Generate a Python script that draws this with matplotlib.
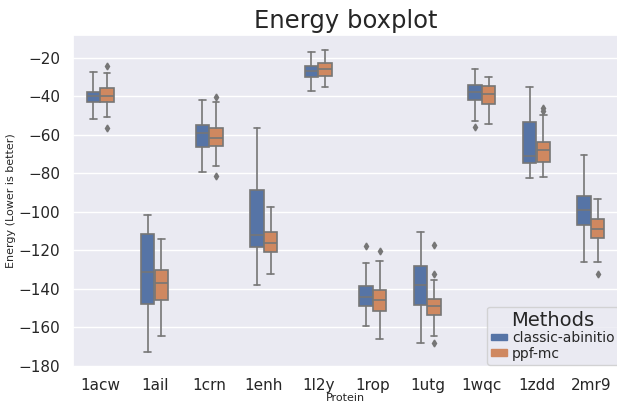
import matplotlib
matplotlib.use("Agg")
import matplotlib.pyplot as plt
from matplotlib.patches import Patch
import seaborn as sns

proteins = ["1acw", "1ail", "1crn", "1enh", "1l2y", "1rop", "1utg", "1wqc", "1zdd", "2mr9"]
methods = ["classic-abinitio", "ppf-mc"]

# classic-abinitio box stats
ca_whishi = [-27.7, -101.7, -41.9, -56.7, -17.1, -126.8, -110.5, -25.8, -35.3, -70.7]
ca_q3 = [-38.0, -111.7, -55.1, -88.9, -24.3, -138.6, -128.0, -34.1, -53.2, -91.8]
ca_med = [-39.7, -131.2, -58.9, -112.2, -27.2, -144.4, -137.9, -37.8, -70.9, -99.0]
ca_q1 = [-42.8, -148.0, -66.3, -118.5, -29.9, -149.1, -148.2, -41.9, -74.8, -106.9]
ca_whislo = [-52.1, -172.6, -79.5, -138.2, -37.3, -159.3, -167.9, -53.1, -82.7, -125.9]
ca_fliers = [[], [], [], [], [], [-117.7], [], [-56.2], [], []]

# ppf-mc box stats
pp_whishi = [-28.2, -113.9, -43.3, -97.5, -16.2, -125.7, -135.3, -29.9, -49.8, -93.4]
pp_q3 = [-35.9, -130.4, -56.8, -110.6, -22.9, -140.5, -145.1, -34.9, -63.7, -103.6]
pp_med = [-39.7, -136.9, -61.6, -116.1, -26.0, -145.6, -148.9, -39.0, -68.2, -109.1]
pp_q1 = [-43.3, -145.6, -65.8, -120.9, -29.4, -151.6, -153.5, -44.2, -74.0, -113.4]
pp_whislo = [-50.7, -164.2, -76.4, -132.2, -35.1, -166.0, -164.5, -54.3, -81.7, -126.2]
pp_fliers = [[-24.6, -56.5], [], [-40.4, -81.2], [], [], [-120.4],
             [-117.0, -132.4, -168.1], [], [-46.0, -47.6], [-132.4]]


def make_stats(whislo, q1, med, q3, whishi, fliers):
    return [dict(whislo=a, q1=b, med=c, q3=d, whishi=e, fliers=f)
            for a, b, c, d, e, f in zip(whislo, q1, med, q3, whishi, fliers)]


sns.set_theme(style="darkgrid")
plt.rcParams["font.family"] = ["DejaVu Sans"]

colors = [sns.desaturate(c, 0.8) for c in sns.color_palette("deep")[:2]]
line_gray = "#767676"

fig = plt.figure(figsize=(6.17, 4.04), dpi=100)
ax = fig.add_axes([0.118, 0.092, 0.884, 0.821])

all_stats = [make_stats(ca_whislo, ca_q1, ca_med, ca_q3, ca_whishi, ca_fliers),
             make_stats(pp_whislo, pp_q1, pp_med, pp_q3, pp_whishi, pp_fliers)]
offsets = [-0.125, 0.125]
for stats, off, col in zip(all_stats, offsets, colors):
    ax.bxp(stats, positions=[i + off for i in range(len(proteins))], widths=0.245,
           patch_artist=True, manage_ticks=False,
           boxprops=dict(facecolor=col, edgecolor=line_gray, linewidth=1.2),
           medianprops=dict(color=line_gray, linewidth=1.2),
           whiskerprops=dict(color=line_gray, linewidth=1.2),
           capprops=dict(color=line_gray, linewidth=1.2),
           flierprops=dict(marker="d", markersize=3.5, markerfacecolor=line_gray,
                           markeredgecolor=line_gray))

ax.xaxis.grid(False)
ax.set_xlim(-0.5, len(proteins) - 0.5)
ax.set_xticks(range(len(proteins)))
ax.set_xticklabels(proteins, fontsize=11)
ax.tick_params(axis="y", labelsize=11, pad=3)
ax.tick_params(axis="x", pad=2)
ax.set_xlabel("Protein", fontsize=8, labelpad=0)
ax.set_ylabel("Energy (Lower is better)", fontsize=8, labelpad=2)
ax.set_title("Energy boxplot", fontsize=17.5, pad=5)

handles = [Patch(facecolor=c, edgecolor=c, label=m) for c, m in zip(colors, methods)]
leg = ax.legend(handles=handles, title="Methods", loc="lower right", fontsize=10,
                title_fontsize=14, bbox_to_anchor=(1.005, 0.0), frameon=True,
                labelspacing=0.1, handlelength=1.1, handleheight=0.35,
                handletextpad=0.4, borderpad=0.3, borderaxespad=0.15)

fig.savefig("out.png", dpi=100)
